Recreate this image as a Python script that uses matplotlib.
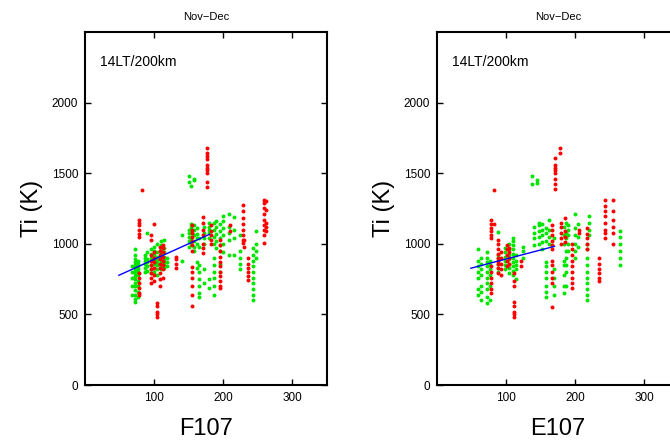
import matplotlib
matplotlib.use('Agg')
import matplotlib.pyplot as plt

plt.rcParams['font.family'] = ['Liberation Sans', 'DejaVu Sans']

# Columnas de puntos (x, [valores Ti]) para cada panel
f107_verde = [
    (68, [640, 700, 760, 800, 840]),
    (72, [590, 610, 640, 670, 700, 720, 750, 770, 790, 810, 830, 850, 870, 890, 920, 960]),
    (76, [620, 660, 700, 740, 780, 800, 820, 840, 860, 880]),
    (87, [800, 830, 860, 880, 900, 920]),
    (90, [810, 840, 870, 890, 940, 1080]),
    (96, [790, 820, 850, 880, 900, 930, 960]),
    (100, [800, 830, 860, 890, 920, 950, 980]),
    (104, [780, 820, 850, 870, 890, 910, 940, 1000]),
    (110, [820, 840, 860, 880, 900, 930, 960, 990, 1020]),
    (114, [830, 850, 870, 890, 910, 940, 970, 1030]),
    (118, [840, 870, 900]),
    (140, [880, 1060]),
    (150, [980, 1020, 1050, 1080, 1100, 1480, 1440]),
    (154, [1000, 1040, 1080, 1120, 1140, 1410]),
    (158, [980, 1020, 1060, 1100, 1130, 1460, 1450, 950]),
    (162, [1000, 1040, 1070, 1110, 870, 830]),
    (165, [620, 650, 700, 750, 800, 850, 980, 1040]),
    (172, [1000, 1040, 1080, 1120, 820, 720]),
    (180, [1040, 1080, 1120, 1150, 1100, 750, 690]),
    (187, [1000, 1050, 1100, 1150, 640, 700, 760, 800, 850, 900]),
    (190, [970, 1020, 1070, 1120, 1160]),
    (195, [950, 990, 1040, 1090, 1140, 860, 800]),
    (200, [1000, 1060, 1110, 1160, 1200, 940]),
    (208, [1030, 1080, 1120, 920, 1210]),
    (215, [1040, 1100, 1190, 920]),
    (224, [820, 860, 900, 950, 1060]),
    (243, [600, 640, 680, 720, 760, 800, 840, 880, 920, 970]),
    (248, [900, 950, 1000, 1090]),
]
f107_rojo = [
    (78, [1046, 1070, 1100, 1130, 1150, 1166, 790, 760, 720, 690, 650, 636]),
    (82, [1378]),
    (96, [720, 760, 790, 820, 850, 880, 920, 1025, 1060]),
    (100, [740, 780, 830, 870, 900, 940, 1140]),
    (104, [480, 500, 520, 560, 580]),
    (108, [750, 790, 830, 860, 890, 920, 950, 980, 700]),
    (113, [820, 850, 880, 910, 940, 970, 990, 760]),
    (131, [830, 860, 890, 910]),
    (155, [1130, 1100, 1080, 1050, 1020, 990, 950, 834, 800, 760, 700, 640, 560]),
    (170, [1187, 1150, 1100, 1060, 1000, 970, 933]),
    (177, [1682, 1640, 1620, 1600, 1560, 1540, 1520, 1500, 1440, 1400]),
    (182, [1000, 1030, 1060, 1090, 1130]),
    (195, [1025, 990, 950, 910, 870, 840, 800, 770, 740, 700, 690]),
    (210, [1090, 1130]),
    (228, [1272, 1230, 1180, 1140, 1100, 1060, 1030, 1003]),
    (230, [1030, 980]),
    (236, [897, 860, 830, 800, 770, 742]),
    (259, [1307, 1290, 1250, 1210, 1170, 1130, 1100, 1060, 1003]),
    (262, [1300, 1240, 1150, 1120, 1090]),
]
e107_verde = [
    (60, [640, 680, 760, 800, 840, 880, 960]),
    (64, [600, 660, 700, 780, 820, 860, 900]),
    (72, [580, 620, 680, 720, 760, 800, 840, 870, 900, 940]),
    (76, [600, 700, 780, 820, 850, 880]),
    (88, [800, 830, 860, 880, 900, 920, 1081]),
    (98, [820, 850, 880, 910, 940, 970]),
    (104, [790, 830, 860, 890, 920, 960, 1000]),
    (110, [780, 810, 840, 870, 900, 930, 960, 990, 1020, 1040]),
    (114, [820, 850, 880, 920, 750]),
    (124, [900, 950, 980]),
    (138, [1420, 1480]),
    (145, [1430, 1450]),
    (140, [990, 1040, 1080, 1120]),
    (147, [1000, 1050, 1090, 1130, 1150]),
    (152, [960, 1010, 1060, 1100, 1140]),
    (157, [620, 660, 700, 760, 800, 840, 870, 1020, 1080, 1110]),
    (162, [1000, 1050, 1100, 1170]),
    (169, [640, 700, 760, 820, 1040]),
    (183, [650, 700, 780, 850, 880, 1000, 1060, 1120]),
    (186, [700, 800, 850, 900, 950, 1040, 1080, 1150]),
    (190, [950, 1000, 1060, 1100, 1130]),
    (200, [900, 950, 1000, 1060, 1110, 1210]),
    (204, [980, 1050, 1140]),
    (217, [600, 640, 680, 720, 760, 800, 850, 900, 960, 1000]),
    (220, [1060, 1100, 1150, 1200]),
    (265, [850, 900, 950, 1000, 1050, 1088]),
]
e107_rojo = [
    (78, [1040, 1060, 1090, 1110, 1140, 1166, 650, 680, 720, 760, 800, 840]),
    (83, [1380, 1138]),
    (88, [790, 830, 860, 880, 900, 930, 960, 1000, 1025]),
    (93, [780, 820, 860, 900, 940]),
    (101, [840, 880, 920, 960, 990]),
    (104, [860, 900, 940, 970]),
    (111, [480, 500, 520, 560, 586, 700, 740, 790]),
    (121, [840, 880]),
    (171, [1610, 1560, 1540, 1520, 1500, 1460, 1420, 1390]),
    (178, [1680, 1640]),
    (167, [1130, 1100, 1060, 1020, 990, 960, 880, 850, 800, 760, 720, 550]),
    (180, [1000, 1040, 1080, 1120, 1150]),
    (185, [1010, 1050, 1090, 1180]),
    (195, [1000, 960, 920, 880, 840, 800, 760, 720, 690]),
    (206, [1080, 1100]),
    (217, [1110, 1070, 1040, 1000, 960]),
    (234, [900, 860, 820, 790, 760, 740]),
    (243, [1310, 1270, 1230, 1200, 1150, 1100, 1080, 1040]),
    (254, [1310, 1230, 1170, 1120, 1080, 1000]),
]

# Rectas de ajuste (extremos)
f107_ajuste_x = [49, 180]
f107_ajuste_y = [777, 1067]
e107_ajuste_x = [49, 170]
e107_ajuste_y = [827, 982]


def aplanar(columnas):
    xs, ys = [], []
    for x, valores in columnas:
        for v in valores:
            xs.append(x)
            ys.append(v)
    return xs, ys


fig = plt.figure(figsize=(6.7, 4.45), dpi=100)
ax1 = fig.add_axes([85 / 670, 60 / 445, 242 / 670, 353 / 445])
ax2 = fig.add_axes([437 / 670, 60 / 445, 242 / 670, 353 / 445])

paneles = [
    (ax1, f107_verde, f107_rojo, f107_ajuste_x, f107_ajuste_y, 'F107'),
    (ax2, e107_verde, e107_rojo, e107_ajuste_x, e107_ajuste_y, 'E107'),
]

for ax, verde, rojo, ax_x, ax_y, etiqueta in paneles:
    gx, gy = aplanar(verde)
    rx, ry = aplanar(rojo)
    ax.scatter(gx, gy, s=8, marker='o', color='#00e600', linewidths=0)
    ax.scatter(rx, ry, s=8, marker='o', color='#ff0000', linewidths=0)
    ax.plot(ax_x, ax_y, color='#0000ff', linewidth=1)

    ax.set_xlim(0, 350)
    ax.set_ylim(0, 2500)
    ax.set_xticks([100, 200, 300])
    ax.set_yticks([0, 500, 1000, 1500, 2000])
    ax.tick_params(direction='in', top=True, right=True, length=4, width=1,
                   labelsize=8.5, pad=5)
    for s in ax.spines.values():
        s.set_linewidth(1.5)

    ax.set_title('Nov\u2212Dec', fontsize=8, pad=9)
    ax.text(0.062, 0.915, '14LT/200km', transform=ax.transAxes,
            fontsize=10, va='center', ha='left')
    ax.set_xlabel(etiqueta, fontsize=17, labelpad=10)
    ax.set_ylabel('Ti (K)', fontsize=17, labelpad=6)

fig.savefig('out.png', dpi=100)
